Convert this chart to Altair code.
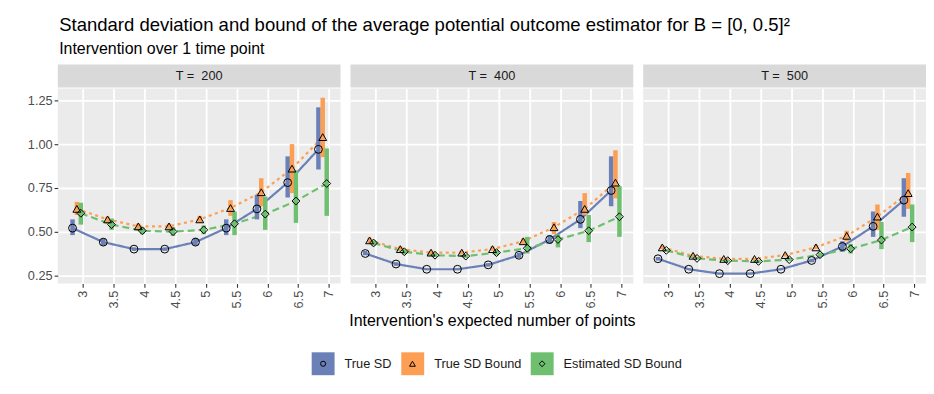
import altair as alt
import pandas as pd

FONT = "Liberation Sans"

x_points = [3, 3.5, 4, 4.5, 5, 5.5, 6, 6.5, 7]
x_tick_values = [3, 3.5, 4, 4.5, 5, 5.5, 6, 6.5, 7]
y_tick_values = [0.25, 0.5, 0.75, 1.0, 1.25]
series_names = ["True SD", "True SD Bound", "Estimated SD Bound"]
series_colors = ["#6B80B7", "#FC9F55", "#6FBF70"]
series_shapes = ["circle", "triangle-up", "diamond"]
series_dashes = [[1, 0], [3, 3.5], [7, 4]]
dodge = {"True SD": -0.17, "True SD Bound": -0.10, "Estimated SD Bound": -0.035}
T_values = [200, 400, 500]

# T = 200
sd_200 = [0.52, 0.44, 0.40, 0.40, 0.44, 0.52, 0.63, 0.78, 0.97]
sd_lo_200 = [0.48, 0.42, 0.39, 0.39, 0.42, 0.48, 0.57, 0.695, 0.855]
sd_hi_200 = [0.57, 0.46, 0.41, 0.41, 0.465, 0.57, 0.71, 0.93, 1.21]
bound_200 = [0.63, 0.57, 0.53, 0.53, 0.57, 0.635, 0.725, 0.86, 1.04]
bound_lo_200 = [0.595, 0.55, 0.515, 0.515, 0.55, 0.59, 0.645, 0.72, 0.925]
bound_hi_200 = [0.67, 0.585, 0.545, 0.545, 0.59, 0.68, 0.805, 1.0, 1.265]
est_200 = [0.605, 0.54, 0.505, 0.50, 0.51, 0.545, 0.60, 0.675, 0.775]
est_lo_200 = [0.54, 0.51, 0.485, 0.475, 0.485, 0.48, 0.51, 0.55, 0.59]
est_hi_200 = [0.665, 0.575, 0.525, 0.525, 0.535, 0.615, 0.70, 0.85, 0.975]

# T = 400
sd_400 = [0.375, 0.315, 0.285, 0.285, 0.31, 0.365, 0.455, 0.57, 0.735]
sd_lo_400 = [0.365, 0.305, 0.28, 0.28, 0.30, 0.35, 0.43, 0.52, 0.645]
sd_hi_400 = [0.39, 0.325, 0.29, 0.29, 0.32, 0.38, 0.48, 0.675, 0.93]
bound_400 = [0.45, 0.40, 0.38, 0.38, 0.40, 0.445, 0.525, 0.63, 0.78]
bound_lo_400 = [0.435, 0.39, 0.37, 0.37, 0.39, 0.43, 0.485, 0.595, 0.69]
bound_hi_400 = [0.465, 0.415, 0.39, 0.39, 0.415, 0.46, 0.555, 0.72, 0.965]
est_400 = [0.435, 0.385, 0.365, 0.36, 0.38, 0.405, 0.455, 0.505, 0.585]
est_lo_400 = [0.42, 0.37, 0.355, 0.35, 0.365, 0.375, 0.41, 0.44, 0.47]
est_hi_400 = [0.45, 0.40, 0.375, 0.37, 0.395, 0.47, 0.485, 0.595, 0.76]

# T = 500
sd_500 = [0.345, 0.285, 0.26, 0.26, 0.285, 0.335, 0.415, 0.53, 0.68]
sd_lo_500 = [0.335, 0.28, 0.255, 0.255, 0.28, 0.325, 0.385, 0.47, 0.585]
sd_hi_500 = [0.355, 0.29, 0.265, 0.265, 0.29, 0.345, 0.445, 0.615, 0.805]
bound_500 = [0.41, 0.362, 0.344, 0.344, 0.366, 0.41, 0.476, 0.586, 0.72]
bound_lo_500 = [0.40, 0.355, 0.338, 0.338, 0.358, 0.40, 0.445, 0.51, 0.63]
bound_hi_500 = [0.42, 0.37, 0.35, 0.35, 0.375, 0.425, 0.505, 0.655, 0.835]
est_500 = [0.393, 0.347, 0.334, 0.33, 0.34, 0.368, 0.402, 0.452, 0.526]
est_lo_500 = [0.385, 0.34, 0.328, 0.322, 0.332, 0.355, 0.375, 0.40, 0.44]
est_hi_500 = [0.40, 0.355, 0.34, 0.338, 0.35, 0.38, 0.43, 0.555, 0.655]

table = {
    200: [(sd_200, sd_lo_200, sd_hi_200), (bound_200, bound_lo_200, bound_hi_200), (est_200, est_lo_200, est_hi_200)],
    400: [(sd_400, sd_lo_400, sd_hi_400), (bound_400, bound_lo_400, bound_hi_400), (est_400, est_lo_400, est_hi_400)],
    500: [(sd_500, sd_lo_500, sd_hi_500), (bound_500, bound_lo_500, bound_hi_500), (est_500, est_lo_500, est_hi_500)],
}

rows = []
for t in T_values:
    for s, (vals, lo, hi) in zip(series_names, table[t]):
        for i, xv in enumerate(x_points):
            rows.append({"T": t, "series": s, "key": s, "x": xv + dodge[s],
                         "y": vals[i], "lo": lo[i], "hi": hi[i]})
df = pd.DataFrame(rows)
legend_df = pd.DataFrame({"series": series_names, "key": series_names})

W, H = 284, 196
STRIP = 24
AX_FS = 12.8
LEG_FS = 12.8
xscale = alt.Scale(domain=[2.59, 7.19], nice=False, zero=False)
yscale = alt.Scale(domain=[0.203, 1.318], nice=False, zero=False)
cscale = alt.Scale(domain=series_names, range=series_colors)
sscale = alt.Scale(domain=series_names, range=series_shapes)
dscale = alt.Scale(domain=series_names, range=series_dashes)
panel_bg = alt.ViewBackground(fill="#EBEBEB", stroke=None)


def panel(idx, t):
    d = df[df["T"] == t]
    strip_df = pd.DataFrame({"label": [f"T =\u00a0 {t}"]})
    xaxis = alt.Axis(values=x_tick_values, format="~g", labelAngle=270, labelAlign="right",
                     labelBaseline="middle", labelPadding=3,
                     title="Intervention's expected number of points" if idx == 1 else None,
                     titleFontSize=16, titleFontWeight="normal", titleColor="black",
                     titlePadding=5)
    if idx == 0:
        yaxis = alt.Axis(values=y_tick_values, format=".2f", title=None, labelPadding=2)
    else:
        yaxis = alt.Axis(values=y_tick_values, title=None, labels=False, ticks=False)
    X = alt.X("x:Q", scale=xscale, axis=xaxis)
    Y = alt.Y("y:Q", scale=yscale, axis=yaxis)

    strip = alt.Chart(strip_df).mark_rect(color="#D9D9D9").encode(
        x=alt.value(0), x2=alt.value(W), y=alt.value(-STRIP), y2=alt.value(-1))
    strip_text = alt.Chart(strip_df).mark_text(fontSize=AX_FS, color="#1A1A1A", font=FONT).encode(
        x=alt.value(W / 2), y=alt.value(-STRIP / 2), text="label:N")

    base = alt.Chart(d)
    bars = base.mark_rule(strokeWidth=4.5).encode(
        x=X, y=alt.Y("lo:Q", scale=yscale, axis=yaxis), y2="hi:Q",
        color=alt.Color("series:N", scale=cscale, legend=None))
    lines = base.mark_line(strokeWidth=2.2).encode(
        x=X, y=Y, color=alt.Color("series:N", scale=cscale, legend=None),
        strokeDash=alt.StrokeDash("series:N", scale=dscale, legend=None))
    points = base.mark_point(filled=False, color="black", size=62, strokeWidth=1, opacity=1).encode(
        x=X, y=Y, shape=alt.Shape("key:N", scale=sscale, legend=None))
    return alt.layer(strip, strip_text, lines, bars, points, view=panel_bg).properties(width=W, height=H)


# ---- legend: coloured square keys + small black shapes drawn inside them ----
LEG_X = 255
LEG_Y = 3
KEY = 23
leg_c = alt.Chart(legend_df).mark_square(opacity=1, filled=True).encode(
    x=alt.value(0), y=alt.value(0),
    color=alt.Color("series:N", scale=cscale, legend=alt.Legend(
        orient="none", legendX=LEG_X, legendY=LEG_Y, direction="horizontal", title=None,
        symbolType="square", symbolSize=KEY * KEY, symbolStrokeWidth=0, symbolOpacity=1,
        labelFontSize=LEG_FS, labelColor="#1A1A1A", labelFont=FONT, labelOffset=10,
        columnPadding=9))
).transform_filter("false")

# left edge of each key square, relative to LEG_X (key + label offset + label width + padding)
key_offsets = [0, 89.7, 219.9]
inner_sizes = [26, 34, 34]
inner_layers = []
for i, s in enumerate(series_names):
    one = legend_df[legend_df["series"] == s]
    inner_layers.append(
        alt.Chart(one).mark_point(opacity=1, filled=False, color="black").encode(
            x=alt.value(0), y=alt.value(0),
            shape=alt.Shape("key:N", scale=alt.Scale(domain=[s], range=[series_shapes[i]]),
                            legend=alt.Legend(
                                orient="none", legendX=LEG_X + key_offsets[i] + KEY / 2 - 3.5,
                                legendY=LEG_Y + KEY / 2 - 3.5, direction="horizontal",
                                title=None, symbolSize=inner_sizes[i], symbolStrokeWidth=1,
                                symbolStrokeColor="black", symbolFillColor="transparent",
                                symbolOpacity=1, labelExpr="''", labelFontSize=6,
                                labelOffset=0))
        ).transform_filter("false")
    )

legend_chart = alt.layer(leg_c, *inner_layers, view=alt.ViewBackground(fill=None, stroke=None)).resolve_scale(
    color="independent", shape="independent").resolve_legend(
    color="independent", shape="independent").properties(width=10, height=1)

panels = alt.hconcat(*[panel(i, t) for i, t in enumerate(T_values)], spacing=8)

chart = alt.vconcat(panels, legend_chart, spacing=20).resolve_scale(
    color="independent", shape="independent", strokeDash="independent"
).resolve_legend(color="independent", shape="independent").properties(
    title=alt.TitleParams(
        text="Standard deviation and bound of the average potential outcome estimator for B = [0, 0.5]²",
        subtitle="Intervention over 1 time point",
        anchor="start", frame="bounds", dx=32, fontSize=18.6, subtitleFontSize=16,
        fontWeight="normal", color="black", subtitleColor="black", font=FONT, subtitleFont=FONT,
        offset=8, subtitlePadding=6),
    padding={"left": 19, "top": 7, "right": 0, "bottom": 0},
).configure_view(stroke=None).configure_axis(
    gridColor="white", gridWidth=1.8, domain=False, tickColor="#333333", tickSize=3.7,
    tickWidth=1.1, labelColor="#4D4D4D", labelFontSize=AX_FS, labelFont=FONT, titleFont=FONT
).configure_concat(spacing=8)

chart.save("out.html", embed_options={"renderer": "svg", "actions": False})
